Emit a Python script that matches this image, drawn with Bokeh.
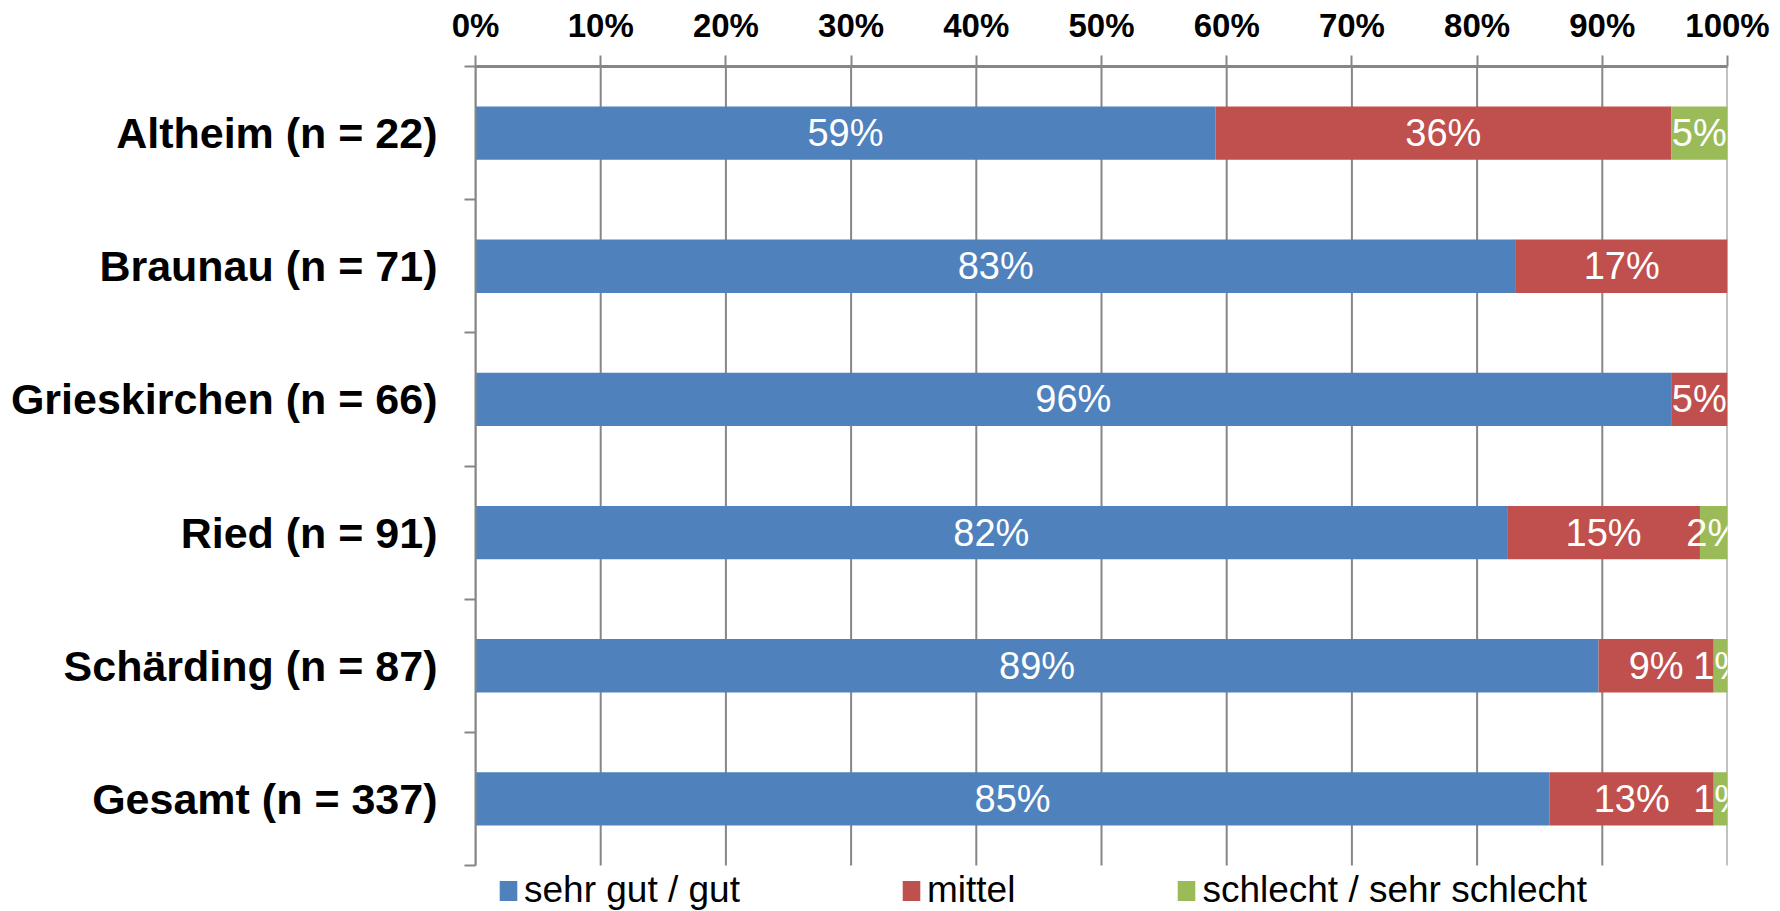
from bokeh.plotting import figure
from bokeh.models import (ColumnDataSource, Range1d, FixedTicker, PrintfTickFormatter,
                          Legend, LegendItem)
from bokeh.core.properties import value
from bokeh.embed import file_html
from bokeh.resources import INLINE

categories = ["Altheim (n = 22)", "Braunau (n = 71)", "Grieskirchen (n = 66)",
              "Ried (n = 91)", "Schärding (n = 87)", "Gesamt (n = 337)"]
series_names = ["sehr gut / gut", "mittel", "schlecht / sehr schlecht"]
good = [59.1, 83.1, 95.5, 82.4, 89.7, 85.8]
medium = [36.4, 16.9, 4.5, 15.4, 9.2, 13.1]
bad = [4.5, 0.0, 0.0, 2.2, 1.1, 1.1]
good_labels = ["59%", "83%", "96%", "82%", "89%", "85%"]
medium_labels = ["36%", "17%", "5%", "15%", "9%", "13%"]
bad_labels = ["5%", "", "", "2%", "1%", "1%"]
x_ticks = [0, 10, 20, 30, 40, 50, 60, 70, 80, 90, 100]
colors = ["#4F81BD", "#C0504D", "#9BBB59"]

FONT = "Liberation Sans"
GRID = "#868686"
n = len(categories)
y_centers = [n - i - 0.5 for i in range(n)]
boundaries = list(range(n + 1))

# plot area 799 px tall for the categories, plus 46 px below for the legend
AREA_H, LEGEND_H = 799, 46
extra = n * LEGEND_H / AREA_H

p = figure(width=1780, height=911, output_backend="svg", toolbar_location=None,
           x_range=Range1d(0, 100), y_range=Range1d(-extra, n),
           x_axis_location="above",
           min_border_left=475, min_border_right=53, min_border_top=66, min_border_bottom=0)
p.outline_line_color = None
p.background_fill_color = "white"
p.border_fill_color = "white"
p.xgrid.grid_line_color = None
p.ygrid.grid_line_color = None

# vertical grid lines only over the category area
p.segment(x0=x_ticks, y0=[0] * len(x_ticks), x1=x_ticks, y1=[n] * len(x_ticks),
          line_color=GRID, line_width=2)

series = [good, medium, bad]
labels = [good_labels, medium_labels, bad_labels]
lefts = [0.0] * n
renderers = []
for k, vals in enumerate(series):
    rights = [l + v for l, v in zip(lefts, vals)]
    src = ColumnDataSource(dict(y=y_centers, left=lefts, right=rights,
                                xc=[(l + r) / 2 for l, r in zip(lefts, rights)],
                                lab=labels[k]))
    r = p.hbar(y="y", left="left", right="right", height=0.4, source=src,
               fill_color=colors[k], line_color=None)
    renderers.append(r)
    p.text(x="xc", y="y", text="lab", source=src, text_color="white",
           text_font=value(FONT), text_font_size="38px",
           text_align="center", text_baseline="middle")
    lefts = rights

# top x axis
xa = p.xaxis[0]
xa.ticker = FixedTicker(ticks=x_ticks)
xa.formatter = PrintfTickFormatter(format="%d%%")
xa.axis_line_color = GRID
xa.axis_line_width = 3
xa.major_tick_line_color = GRID
xa.major_tick_line_width = 2
xa.major_tick_out = 11
xa.major_tick_in = 0
xa.minor_tick_line_color = None
xa.major_label_text_font = FONT
xa.major_label_text_font_style = "bold"
xa.major_label_text_font_size = "33px"
xa.major_label_text_color = "black"
xa.major_label_standoff = 12

# left axis
ya = p.yaxis[0]
ya.bounds = (0, n)
ya.ticker = FixedTicker(ticks=y_centers, minor_ticks=boundaries)
ya.major_label_overrides = {y: c for y, c in zip(y_centers, categories)}
ya.axis_line_color = GRID
ya.axis_line_width = 2
ya.major_tick_line_color = None
ya.major_tick_out = 0
ya.major_tick_in = 0
ya.minor_tick_line_color = GRID
ya.minor_tick_line_width = 2
ya.minor_tick_out = 11
ya.minor_tick_in = 0
ya.major_label_text_font = FONT
ya.major_label_text_font_style = "bold"
ya.major_label_text_font_size = "43px"
ya.major_label_text_color = "black"
ya.major_label_standoff = 27

legend = Legend(items=[LegendItem(label=s, renderers=[r]) for s, r in zip(series_names, renderers)],
                orientation="horizontal", location=(22, 0),
                glyph_width=22, glyph_height=25, label_standoff=5, spacing=160,
                padding=0, margin=0, border_line_color=None, background_fill_alpha=0,
                label_text_font=FONT, label_text_font_size="37px", label_text_color="black",
                label_height=40)
p.add_layout(legend, "center")

open("out.html", "w").write(file_html(p, INLINE))
